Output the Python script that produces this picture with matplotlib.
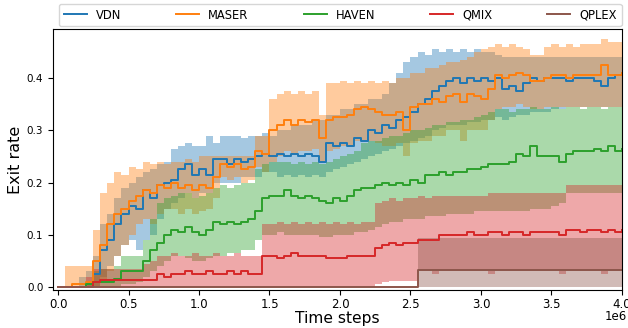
import numpy as np
import matplotlib
matplotlib.use("Agg")
import matplotlib.pyplot as plt
from matplotlib.ticker import FuncFormatter

# ---- data (time steps every 0.05e6, 0 .. 4e6) ----
timesteps = np.arange(81) * 50000

labels = ["VDN", "MASER", "HAVEN", "QMIX", "QPLEX"]
colors = ["#1f77b4", "#ff7f0e", "#2ca02c", "#d62728", "#8c564b"]
x_scale_label = "1e6"

vdn_mean = [0, 0, 0, 0, 0.005,
            0.025, 0.07, 0.09, 0.12, 0.14,
            0.155, 0.15, 0.185, 0.17, 0.195,
            0.20, 0.205, 0.225, 0.235, 0.215,
            0.225, 0.215, 0.245, 0.245, 0.235,
            0.245, 0.24, 0.245, 0.25, 0.255,
            0.25, 0.255, 0.25, 0.255, 0.25,
            0.255, 0.25, 0.24, 0.275, 0.27,
            0.275, 0.27, 0.285, 0.28, 0.30,
            0.295, 0.31, 0.305, 0.32, 0.325,
            0.335, 0.35, 0.36, 0.375, 0.385,
            0.395, 0.40, 0.39, 0.40, 0.395,
            0.40, 0.395, 0.40, 0.38, 0.385,
            0.375, 0.39, 0.40, 0.395, 0.40,
            0.40, 0.40, 0.395, 0.40, 0.40,
            0.40, 0.395, 0.385, 0.40, 0.405,
            0.41]
vdn_upper = [0, 0, 0, 0.02, 0.03,
             0.06, 0.12, 0.14, 0.17, 0.19,
             0.20, 0.21, 0.22, 0.225, 0.235,
             0.24, 0.265, 0.27, 0.275, 0.27,
             0.27, 0.29, 0.275, 0.29, 0.29,
             0.29, 0.285, 0.29, 0.29, 0.295,
             0.29, 0.30, 0.30, 0.31, 0.31,
             0.31, 0.32, 0.32, 0.33, 0.33,
             0.34, 0.34, 0.35, 0.35, 0.36,
             0.36, 0.37, 0.39, 0.41, 0.43,
             0.44, 0.45, 0.445, 0.455, 0.45,
             0.455, 0.45, 0.455, 0.45, 0.455,
             0.45, 0.45, 0.445, 0.44, 0.44,
             0.44, 0.44, 0.44, 0.44, 0.44,
             0.44, 0.44, 0.44, 0.44, 0.44,
             0.44, 0.44, 0.44, 0.44, 0.44,
             0.44]
vdn_lower = [0, 0, 0, 0, 0,
             0, 0.02, 0.04, 0.06, 0.08,
             0.09, 0.07, 0.09, 0.10, 0.13,
             0.15, 0.16, 0.17, 0.18, 0.17,
             0.18, 0.18, 0.20, 0.20, 0.20,
             0.20, 0.21, 0.21, 0.21, 0.22,
             0.22, 0.21, 0.215, 0.21, 0.215,
             0.21, 0.215, 0.21, 0.22, 0.225,
             0.23, 0.235, 0.24, 0.245, 0.25,
             0.255, 0.26, 0.265, 0.27, 0.275,
             0.28, 0.285, 0.29, 0.30, 0.305,
             0.31, 0.31, 0.31, 0.315, 0.315,
             0.32, 0.32, 0.325, 0.32, 0.325,
             0.33, 0.33, 0.335, 0.335, 0.335,
             0.34, 0.34, 0.345, 0.345, 0.345,
             0.345, 0.345, 0.345, 0.345, 0.345,
             0.345]

maser_mean = [0, 0, 0.005, 0.005, 0.01,
              0.05, 0.08, 0.12, 0.14, 0.15,
              0.165, 0.175, 0.185, 0.18, 0.195,
              0.19, 0.20, 0.19, 0.195, 0.185,
              0.195, 0.19, 0.21, 0.235, 0.23,
              0.235, 0.225, 0.23, 0.26, 0.255,
              0.30, 0.31, 0.32, 0.31, 0.32,
              0.315, 0.32, 0.285, 0.32, 0.325,
              0.325, 0.33, 0.34, 0.345, 0.34,
              0.335, 0.33, 0.33, 0.335, 0.30,
              0.345, 0.35, 0.35, 0.36, 0.355,
              0.365, 0.37, 0.355, 0.37, 0.365,
              0.36, 0.38, 0.405, 0.40, 0.405,
              0.41, 0.405, 0.395, 0.395, 0.40,
              0.405, 0.405, 0.40, 0.405, 0.405,
              0.405, 0.405, 0.425, 0.405, 0.405,
              0.41]
maser_upper = [0, 0.04, 0.04, 0.04, 0.04,
               0.11, 0.18, 0.20, 0.22, 0.215,
               0.23, 0.225, 0.24, 0.235, 0.24,
               0.235, 0.24, 0.24, 0.245, 0.24,
               0.25, 0.25, 0.25, 0.25, 0.25,
               0.25, 0.25, 0.25, 0.29, 0.29,
               0.36, 0.37, 0.375, 0.37, 0.375,
               0.37, 0.375, 0.33, 0.39, 0.39,
               0.395, 0.39, 0.395, 0.39, 0.395,
               0.39, 0.395, 0.39, 0.40, 0.40,
               0.41, 0.41, 0.42, 0.42, 0.425,
               0.43, 0.43, 0.435, 0.44, 0.45,
               0.455, 0.46, 0.465, 0.46, 0.465,
               0.46, 0.455, 0.445, 0.445, 0.46,
               0.465, 0.46, 0.465, 0.46, 0.465,
               0.465, 0.465, 0.475, 0.47, 0.47,
               0.48]
maser_lower = [0, 0, 0, 0, 0,
               0, 0.01, 0.03, 0.06, 0.08,
               0.10, 0.12, 0.13, 0.12, 0.14,
               0.15, 0.15, 0.14, 0.15, 0.14,
               0.145, 0.15, 0.17, 0.21, 0.205,
               0.21, 0.20, 0.205, 0.23, 0.22,
               0.24, 0.25, 0.26, 0.255, 0.26,
               0.26, 0.265, 0.24, 0.26, 0.265,
               0.27, 0.27, 0.28, 0.28, 0.28,
               0.275, 0.27, 0.27, 0.275, 0.25,
               0.275, 0.28, 0.28, 0.29, 0.29,
               0.30, 0.30, 0.28, 0.30, 0.30,
               0.30, 0.32, 0.34, 0.345, 0.345,
               0.35, 0.345, 0.34, 0.34, 0.345,
               0.345, 0.345, 0.345, 0.345, 0.345,
               0.345, 0.345, 0.345, 0.345, 0.345,
               0.345]

haven_mean = [0, 0, 0, 0, 0.005,
              0.01, 0.01, 0.01, 0.015, 0.03,
              0.03, 0.03, 0.05, 0.07, 0.085,
              0.10, 0.11, 0.105, 0.115, 0.105,
              0.10, 0.11, 0.125, 0.12, 0.125,
              0.12, 0.125, 0.13, 0.145, 0.17,
              0.175, 0.175, 0.185, 0.175, 0.17,
              0.175, 0.17, 0.165, 0.16, 0.17,
              0.165, 0.175, 0.185, 0.19, 0.19,
              0.195, 0.20, 0.195, 0.20, 0.195,
              0.205, 0.20, 0.215, 0.215, 0.22,
              0.215, 0.22, 0.22, 0.225, 0.225,
              0.23, 0.235, 0.235, 0.235, 0.24,
              0.255, 0.25, 0.27, 0.25, 0.25,
              0.25, 0.24, 0.255, 0.26, 0.26,
              0.26, 0.265, 0.26, 0.27, 0.26,
              0.265]
haven_upper = [0, 0, 0, 0, 0.01,
               0.03, 0.035, 0.035, 0.04, 0.06,
               0.06, 0.06, 0.09, 0.13, 0.16,
               0.17, 0.175, 0.18, 0.18, 0.17,
               0.175, 0.18, 0.19, 0.195, 0.19,
               0.195, 0.20, 0.20, 0.225, 0.235,
               0.24, 0.24, 0.24, 0.235, 0.24,
               0.235, 0.24, 0.235, 0.24, 0.245,
               0.25, 0.255, 0.26, 0.275, 0.28,
               0.28, 0.285, 0.29, 0.29, 0.295,
               0.30, 0.30, 0.305, 0.31, 0.31,
               0.315, 0.315, 0.32, 0.32, 0.325,
               0.33, 0.335, 0.34, 0.34, 0.335,
               0.34, 0.34, 0.345, 0.34, 0.34,
               0.345, 0.34, 0.345, 0.345, 0.34,
               0.345, 0.345, 0.34, 0.345, 0.345,
               0.345]
haven_lower = [0, 0, 0, 0, 0,
               0, 0, 0, 0, 0.005,
               0.005, 0.01, 0.02, 0.03, 0.04,
               0.05, 0.06, 0.06, 0.055, 0.05,
               0.05, 0.055, 0.06, 0.06, 0.065,
               0.065, 0.07, 0.07, 0.09, 0.10,
               0.10, 0.105, 0.10, 0.10, 0.10,
               0.10, 0.10, 0.095, 0.095, 0.10,
               0.10, 0.10, 0.105, 0.105, 0.11,
               0.115, 0.12, 0.125, 0.125, 0.13,
               0.13, 0.13, 0.135, 0.135, 0.135,
               0.14, 0.14, 0.14, 0.14, 0.145,
               0.145, 0.145, 0.145, 0.145, 0.145,
               0.145, 0.145, 0.15, 0.15, 0.15,
               0.155, 0.16, 0.18, 0.18, 0.18,
               0.18, 0.18, 0.18, 0.18, 0.18,
               0.18]

qmix_mean = [0, 0, 0, 0, 0,
             0.01, 0.013, 0.013, 0.013, 0.013,
             0.013, 0.013, 0.013, 0.013, 0.025,
             0.02, 0.025, 0.025, 0.03, 0.025,
             0.025, 0.03, 0.025, 0.025, 0.03,
             0.025, 0.03, 0.025, 0.025, 0.06,
             0.06, 0.055, 0.06, 0.065, 0.06,
             0.06, 0.06, 0.06, 0.055, 0.055,
             0.055, 0.06, 0.06, 0.06, 0.06,
             0.075, 0.08, 0.085, 0.08, 0.085,
             0.085, 0.09, 0.09, 0.09, 0.10,
             0.10, 0.10, 0.10, 0.105, 0.10,
             0.10, 0.105, 0.105, 0.10, 0.105,
             0.105, 0.10, 0.105, 0.105, 0.105,
             0.105, 0.10, 0.11, 0.11, 0.105,
             0.11, 0.11, 0.105, 0.11, 0.105,
             0.11]
qmix_upper = [0, 0, 0, 0, 0.02,
              0.035, 0.035, 0.035, 0.035, 0.035,
              0.035, 0.035, 0.045, 0.05, 0.06,
              0.06, 0.065, 0.06, 0.06, 0.065,
              0.06, 0.06, 0.065, 0.06, 0.06,
              0.065, 0.06, 0.06, 0.06, 0.12,
              0.12, 0.125, 0.12, 0.125, 0.12,
              0.125, 0.12, 0.125, 0.12, 0.125,
              0.12, 0.125, 0.12, 0.125, 0.125,
              0.16, 0.165, 0.17, 0.165, 0.17,
              0.17, 0.175, 0.17, 0.175, 0.175,
              0.175, 0.175, 0.175, 0.175, 0.175,
              0.175, 0.18, 0.18, 0.18, 0.18,
              0.18, 0.18, 0.18, 0.18, 0.18,
              0.18, 0.18, 0.195, 0.195, 0.195,
              0.195, 0.195, 0.195, 0.195, 0.195,
              0.195]
qmix_lower = [0] * 45 + [
              0.005, 0.01, 0.012, 0.012, 0.012,
              0.012, 0.03, 0.03, 0.025, 0.03,
              0.03, 0.03, 0.03, 0.03, 0.03,
              0.03, 0.025, 0.03, 0.03, 0.03,
              0.03, 0.03, 0.03, 0.03, 0.03,
              0.03, 0.025, 0.03, 0.03, 0.03,
              0.03, 0.03, 0.025, 0.03, 0.03,
              0.03]

qplex_mean = [0] * 51 + [0.032] * 30
qplex_upper = [0] * 51 + [0.094] * 30
qplex_lower = [0] * 81

means = [vdn_mean, maser_mean, haven_mean, qmix_mean, qplex_mean]
uppers = [vdn_upper, maser_upper, haven_upper, qmix_upper, qplex_upper]
lowers = [vdn_lower, maser_lower, haven_lower, qmix_lower, qplex_lower]

# ---- figure ----
fig = plt.figure(figsize=(6.28, 3.28), dpi=100)
ax = fig.add_axes([0.0844, 0.1159, 0.906, 0.7957])

for lo, up, c in zip(lowers, uppers, colors):
    ax.fill_between(timesteps, lo, up, step="post", color=c, alpha=0.4,
                    linewidth=0)
for m, c, lab in zip(means, colors, labels):
    ax.plot(timesteps, m, drawstyle="steps-post", color=c, linewidth=1.4,
            label=lab)

ax.set_xlim(-0.0355e6, 4.0e6)
ax.set_ylim(-0.0057, 0.494)
ax.set_yticks([0.0, 0.1, 0.2, 0.3, 0.4])
ax.set_xticks(np.arange(0, 4.01e6, 0.5e6))
ax.xaxis.set_major_formatter(FuncFormatter(lambda v, _: f"{v / 1e6:.1f}"))
ax.tick_params(axis="x", labelsize=8.5, pad=2.5)
ax.tick_params(axis="y", labelsize=7.5)
ax.set_xlabel("Time steps", fontsize=11.2, labelpad=0)
ax.set_ylabel("Exit rate", fontsize=11.5, labelpad=3)
fig.text(0.999, 0.036, x_scale_label, ha="right", va="center", fontsize=8.5)

ax.legend(loc="lower center", bbox_to_anchor=(0.505, 1.0), ncol=5,
          fontsize=8.3, columnspacing=4.75, borderaxespad=0.25,
          frameon=True)

fig.savefig("out.png", dpi=100)
